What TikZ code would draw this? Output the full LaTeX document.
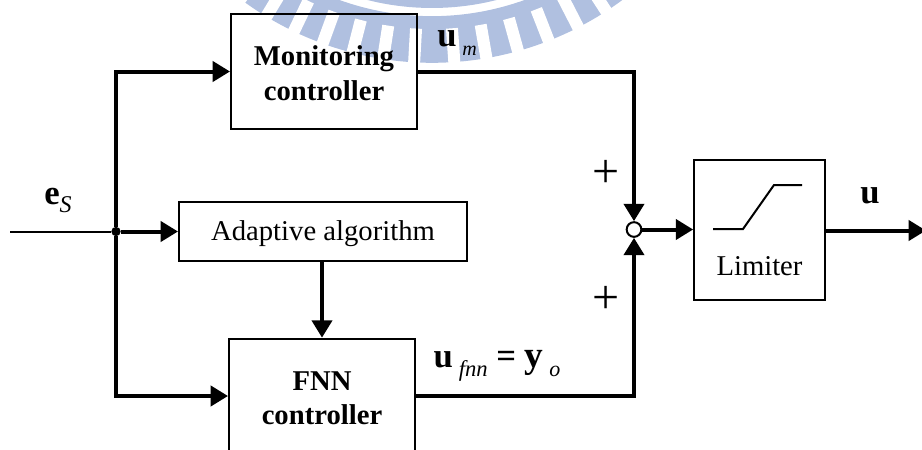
\documentclass[tikz,border=0pt]{standalone}
\usepackage{amsmath,amssymb,bm}
\usepackage{fontspec}
\setmainfont{Liberation Serif}
\usetikzlibrary{arrows.meta,positioning,calc}
\definecolor{softlogo}{RGB}{176,192,224}
\tikzset{
  blockbox/.style={draw,line width=1.5pt,minimum width=139.5pt,minimum height=86pt,inner sep=0pt},
  thinwire/.style={line width=1.5pt},
  arrowwire/.style={line width=3pt,-{Triangle[length=13pt,width=15pt]}},
  signallabel/.style={font=\fontsize{26}{30}\selectfont},
  signsign/.style={font=\fontsize{36}{40}\selectfont}
}
\newcommand{\bigtxt}{\fontsize{21.5}{26}\selectfont}
\newcommand{\lowstrut}{\rule{0pt}{17.5pt}}
\newcommand{\subtxt}[3]{\raisebox{#2}{\fontsize{#1}{#1}\selectfont\itshape #3}}
\begin{document}
\begin{tikzpicture}[x=0.75pt,y=-0.75pt, every node/.style={font=\bigtxt,align=center}]
\useasboundingbox (0,0) rectangle (922,450);
% watermark
\draw[softlogo,line width=35pt] plot[domain=-45:45,samples=70] ({432+296.5*sin(\x)},{-257+296.5*cos(\x)});
\foreach \a in {-36.8,-31.2,-25.6,-20,-14.4,-8.8,-3.2,4,9.8,15.6,21.4,27.2,33,38.8}
  \draw[white,line width=9pt] ({432+286*sin(\a)},{-257+286*cos(\a)}) -- ({432+330*sin(\a)},{-257+330*cos(\a)});
\draw[softlogo,line width=6pt] plot[domain=-20:20,samples=30] ({432+261*sin(\x)},{-257+261*cos(\x)});
% blocks
\node[blockbox] (mon) at (324,71.5) {\lowstrut\bfseries Monitoring\\\bfseries controller};
\node[draw,line width=1.5pt,minimum width=216pt,minimum height=44pt,inner sep=0pt] (adapt) at (323,231.5) {\lowstrut Adaptive algorithm};
\node[blockbox] (fnn) at (322,396) {\lowstrut\bfseries FNN\\\bfseries controller};
\node[draw,line width=1.5pt,minimum width=98pt,minimum height=105pt,inner sep=0pt] (lim) at (759.5,230) {};
\node (limtxt) at (759.5,266) {Limiter};
\draw[line width=1.5pt] (713,229)--(743,229)--(774,185)--(802,185);
% junctions
\coordinate (in) at (10,231.5);
\coordinate (out) at (926,230.5);
\node[circle,fill=black,inner sep=0pt,minimum size=7pt] (split) at (116,231.5) {};
\node[circle,draw,fill=white,line width=1.5pt,inner sep=0pt,minimum size=11pt] (sum) at (634,229.5) {};
% connectors
\draw[thinwire] (in)--(split);
\draw[arrowwire] (split)--(adapt);
\draw[arrowwire] (split) |- (mon);
\draw[arrowwire] (split) |- (fnn);
\draw[arrowwire] (adapt.south -| fnn.north)--(fnn.north);
\draw[arrowwire] (mon.east) -| (sum.north);
\draw[arrowwire] (fnn.east) -| (sum.south);
\draw[arrowwire] (sum)--(lim.west |- sum);
\draw[arrowwire] (lim.east |- out)--(out);
% labels
\node[signallabel] (lbe) at (58,200) {\textbf{e}\subtxt{18}{-6pt}{S}};
\node[signallabel] (lbm) at (457,43) {\textbf{u}\,\subtxt{15}{-7pt}{m}};
\node[signallabel] (lbf) at (497,366) {\textbf{u}\,\subtxt{17}{-7pt}{fnn} \textbf{=} {\fontsize{28}{30}\selectfont\textbf{y}}\,\subtxt{16.5}{-7pt}{o}};
\node[signallabel] (lbu) at (870,196) {\textbf{u}};
\node[signsign] (plusa) at (606,174) {+};
\node[signsign] (plusb) at (606,300) {+};
\end{tikzpicture}
\end{document}
